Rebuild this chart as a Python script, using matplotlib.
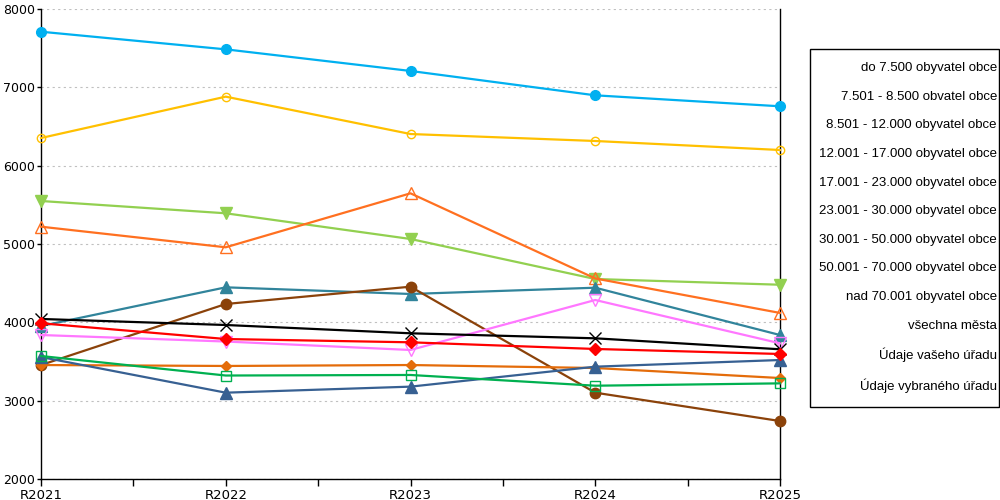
import matplotlib.pyplot as plt
from matplotlib.lines import Line2D
from matplotlib.patches import Rectangle
from matplotlib.ticker import MultipleLocator

years = ['R2021', 'R2022', 'R2023', 'R2024', 'R2025']

do_7500 = [7710, 7485, 7209, 6898, 6758]
s_7501_8500 = [6353, 6881, 6404, 6315, 6200]
s_8501_12000 = [5549, 5392, 5064, 4553, 4480]
s_12001_17000 = [5221, 4958, 5647, 4560, 4120]
s_17001_23000 = [3953, 4447, 4362, 4442, 3838]
s_23001_30000 = [3455, 4234, 4455, 3102, 2740]
s_30001_50000 = [3838, 3755, 3647, 4285, 3732]
s_50001_70000 = [3455, 3443, 3455, 3417, 3289]
nad_70001 = [3557, 3102, 3179, 3434, 3519]
vsechna_mesta = [4043, 3966, 3860, 3796, 3656]
vas_urad = [3988, 3787, 3745, 3660, 3596]
vybrany_urad = [3570, 3321, 3328, 3191, 3221]

labels = ['do 7.500 obyvatel obce', '7.501 - 8.500 obvatel obce',
          '8.501 - 12.000 obyvatel obce', '12.001 - 17.000 obyvatel obce',
          '17.001 - 23.000 obyvatel obce', '23.001 - 30.000 obyvatel obce',
          '30.001 - 50.000 obyvatel obce', '50.001 - 70.000 obyvatel obce',
          'nad 70.001 obyvatel obce', 'všechna města',
          'Údaje vašeho úřadu', 'Údaje vybraného úřadu']

# (data, color, marker, size, filled)
series = [
    (do_7500, '#00B0F0', 'o', 7, True),
    (s_7501_8500, '#FFC000', 'o', 6, False),
    (s_8501_12000, '#92D050', 'v', 8, True),
    (s_12001_17000, '#FF7020', '^', 8, False),
    (s_17001_23000, '#31849B', '^', 8, True),
    (s_23001_30000, '#8B420A', 'o', 7.5, True),
    (s_30001_50000, '#FF77FF', 'v', 8, False),
    (s_50001_70000, '#E46C0A', 'D', 5.5, True),
    (nad_70001, '#376092', '^', 8, True),
    (vsechna_mesta, '#000000', 'x', 8, True),
    (vas_urad, '#FF0000', 'D', 6, True),
    (vybrany_urad, '#00B050', 's', 7, False),
]

plt.rcParams['font.family'] = 'DejaVu Sans'
fig = plt.figure(figsize=(10, 5), dpi=100)
ax = fig.add_axes([0.041, 0.042, 0.739, 0.94])

x = list(range(len(years)))
for data, color, marker, size, filled in series:
    ax.plot(x, data, color=color, lw=1.6, marker=marker, markersize=size,
            markerfacecolor=color if filled else 'none',
            markeredgecolor=color, markeredgewidth=1.0,
            clip_on=False, zorder=3)

ax.set_xlim(0, 4)
ax.set_ylim(2000, 8000)
ax.set_xticks(x)
ax.set_xticklabels(years)
ax.xaxis.set_minor_locator(MultipleLocator(0.5))
ax.yaxis.set_major_locator(MultipleLocator(1000))
ax.tick_params(axis='x', which='both', length=5, width=1, labelsize=9.5, pad=2)
ax.tick_params(axis='y', length=3, width=1, labelsize=9, pad=1)
ax.grid(axis='y', color='#C0C0C0', linestyle=(0, (2, 3)), linewidth=0.8)
ax.spines['top'].set_visible(False)
for side in ['left', 'right', 'bottom']:
    ax.spines[side].set_color('black')
    ax.spines[side].set_linewidth(1)

# legend box drawn separately so the text can sit close to its right edge
fig.patches.append(Rectangle((0.810, 0.186), 0.189, 0.716, transform=fig.transFigure,
                             facecolor='white', edgecolor='black', lw=1, zorder=0))
handles = [Line2D([], [], linestyle='none', marker=None) for _ in labels]
leg = fig.legend(handles, labels, loc='upper right', bbox_to_anchor=(0.997, 0.876),
                 markerfirst=False, handlelength=0, handletextpad=0,
                 prop={'family': 'Liberation Sans', 'size': 9.5},
                 labelspacing=1.24, borderpad=0, borderaxespad=0,
                 frameon=False)

fig.savefig('out.png', dpi=100)
